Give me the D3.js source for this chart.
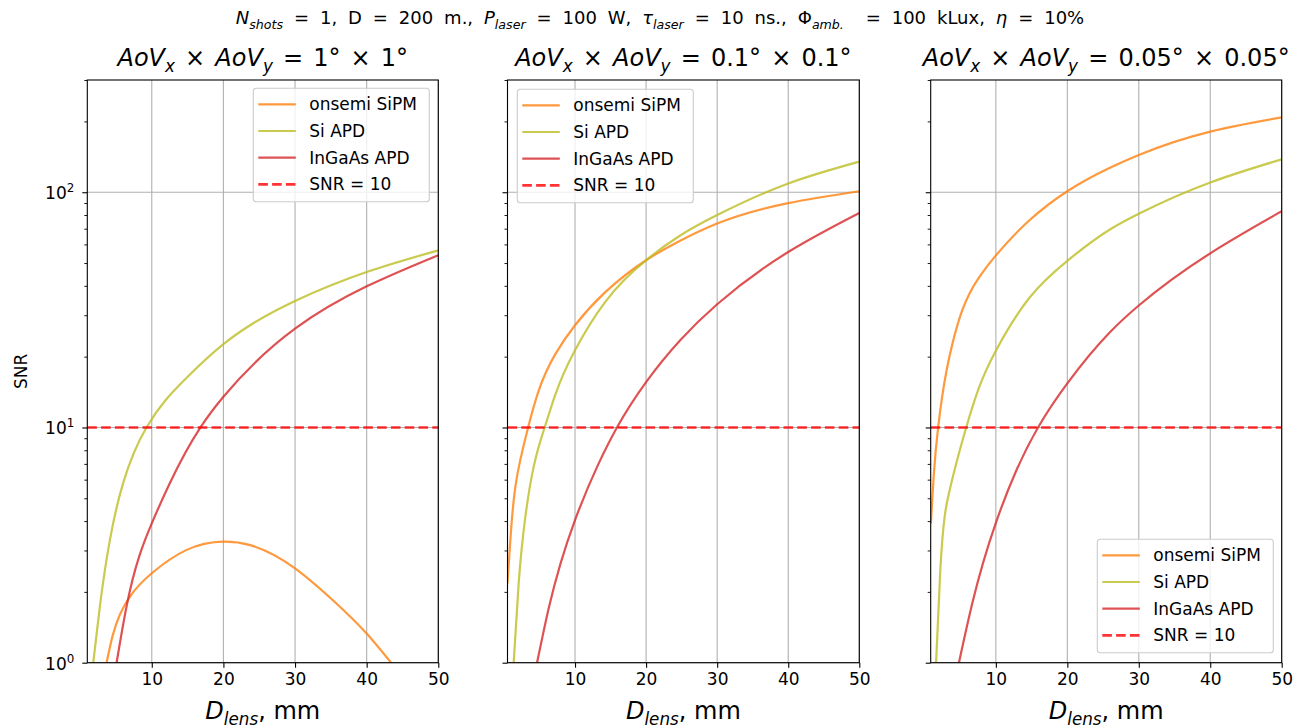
<!DOCTYPE html>
<html>
<head>
<meta charset="utf-8">
<script src="https://cdn.jsdelivr.net/npm/d3@7"></script>
<style>
  body { margin: 0; background: #fff; }
  svg { display: block; }
  text { font-family: "DejaVu Sans", sans-serif; fill: #000; white-space: pre; }
</style>
</head>
<body>
<svg id="chart" width="1302" height="728"></svg>
<script>
// ---- data: lens diameter (mm) vs SNR for each detector and angle of view ----
const xTicks = [10, 20, 30, 40, 50];
const yMajor = [1, 10, 100];
const yExponents = ["0", "1", "2"];
const snrThreshold = 10;
const seriesNames = ["onsemi SiPM", "Si APD", "InGaAs APD"];
const thresholdLabel = "SNR = 10";
const aovValues = ["1", "0.1", "0.05"];

// AoV 1° × 1°
const dSipm1 = [3.69, 4.53, 5.54, 7, 10, 14.8, 20, 23.75, 30, 35.4, 40, 43.4];
const snrSipm1 = [1, 1.3, 1.6, 1.92, 2.4, 3.01, 3.27, 3.16, 2.52, 1.83, 1.33, 1];
const dSi1 = [1.83, 2.75, 4.15, 6.0, 9.26, 14.8, 20, 30, 40, 50];
const snrSi1 = [1, 1.73, 3.32, 5.8, 10, 16.2, 22.6, 34.5, 45.8, 56.6];
const dIngaas1 = [5.09, 6.47, 10, 12.5, 16.8, 20, 30, 40, 50];
const snrIngaas1 = [1, 1.73, 3.91, 5.78, 10, 13.5, 26.3, 39.8, 54];

// AoV 0.1° × 0.1°
const dSipm2 = [0.5, 1.15, 1.61, 2.31, 3.4, 4.88, 7.23, 10, 14.26, 20, 24.8, 30, 40, 50];
const snrSipm2 = [2.17, 4.17, 5.6, 7.3, 10, 14.3, 20.5, 27.2, 37.6, 51.4, 62.2, 73.6, 89.9, 101];
const dSi2 = [1.37, 2.07, 3.01, 4.18, 5.73, 7.23, 10, 14.26, 20, 24.8, 30, 40, 50];
const snrSi2 = [1, 2.17, 4.17, 6.8, 10, 13.8, 21.3, 34.2, 51.4, 65.5, 80, 109, 135];
const dIngaas2 = [4.66, 6.29, 10, 13.3, 15.9, 20, 24.8, 30, 40, 50];
const snrIngaas2 = [1, 1.7, 4.04, 7.0, 10, 15.6, 23.5, 33.4, 55.7, 81.6];

// AoV 0.05° × 0.05°
const dSipm3 = [0.9, 1.31, 1.92, 2.48, 3.89, 5.3, 7.65, 10, 14.7, 20, 25.96, 30, 40, 50];
const snrSipm3 = [3.9, 6.27, 10, 13.5, 22.5, 31.5, 43.5, 53.9, 76, 101, 127, 144, 181, 208];
const dSi3 = [1.63, 2.25, 3.42, 5.85, 7.65, 10, 14.7, 20, 25.96, 30, 40, 50];
const snrSi3 = [1, 2.56, 5.24, 10, 14.8, 21.2, 35.6, 51.1, 69.4, 81, 110, 138];
const dIngaas3 = [4.83, 6.7, 10, 12.8, 15.9, 20, 25.96, 30, 40, 50];
const snrIngaas3 = [1, 1.79, 3.93, 6.5, 10, 15.4, 25.4, 33, 55, 83];

// ---- styling ----
const colors = ["#ff7f0e", "#bcbd22", "#d62728"];
const thresholdColor = "#ff0000";
const lineAlpha = 0.8;
const tickFont = 17;
const titleFont = 24;

const zip = (xs, ys) => xs.map((d, i) => [d, ys[i]]);

const panels = [
  { left: 87.3, right: 438.3, xDomain: [1, 50], legend: "upper right", showY: true,
    data: [zip(dSipm1, snrSipm1), zip(dSi1, snrSi1), zip(dIngaas1, snrIngaas1)] },
  { left: 507.5, right: 859.3, xDomain: [0.5, 50], legend: "upper left", showY: false,
    data: [zip(dSipm2, snrSipm2), zip(dSi2, snrSi2), zip(dIngaas2, snrIngaas2)] },
  { left: 930.7, right: 1281.7, xDomain: [0.88, 50], legend: "lower right", showY: false,
    data: [zip(dSipm3, snrSipm3), zip(dSi3, snrSi3), zip(dIngaas3, snrIngaas3)] }
];
const axTop = 80, axBottom = 662.7;

const svg = d3.select("#chart");

// natural cubic spline in x (C2-smooth, passes through every point), as a d3 curve
function curveSplineX(context) {
  let xs, ys;
  return {
    areaStart() {}, areaEnd() {},
    lineStart() { xs = []; ys = []; },
    point(x, y) { xs.push(+x); ys.push(+y); },
    lineEnd() {
      const n = xs.length;
      if (!n) return;
      context.moveTo(xs[0], ys[0]);
      if (n < 3) { if (n === 2) context.lineTo(xs[1], ys[1]); return; }
      const h = [];
      for (let i = 0; i < n - 1; i++) h.push(xs[i + 1] - xs[i]);
      const a = [], b = [], c = [], r = [];
      for (let i = 1; i < n - 1; i++) {
        a.push(h[i - 1]); b.push(2 * (h[i - 1] + h[i])); c.push(h[i]);
        r.push(6 * ((ys[i + 1] - ys[i]) / h[i] - (ys[i] - ys[i - 1]) / h[i - 1]));
      }
      const m = b.length;
      for (let j = 1; j < m; j++) {
        const w = a[j] / b[j - 1];
        b[j] -= w * c[j - 1]; r[j] -= w * r[j - 1];
      }
      const M = new Array(n).fill(0);
      M[m] = r[m - 1] / b[m - 1];
      for (let j = m - 2; j >= 0; j--) M[j + 1] = (r[j] - c[j] * M[j + 2]) / b[j];
      for (let i = 0; i < n - 1; i++) {
        const s = (ys[i + 1] - ys[i]) / h[i];
        const d0 = s - h[i] * (2 * M[i] + M[i + 1]) / 6;
        const d1 = s + h[i] * (M[i] + 2 * M[i + 1]) / 6;
        context.bezierCurveTo(xs[i] + h[i] / 3, ys[i] + d0 * h[i] / 3,
          xs[i + 1] - h[i] / 3, ys[i + 1] - d1 * h[i] / 3, xs[i + 1], ys[i + 1]);
      }
    }
  };
}

// text with italic / subscript / superscript runs
function richText(g, x, y, parts, size, anchor, wordSpacing) {
  const t = g.append("text").attr("x", x).attr("y", y)
    .attr("text-anchor", anchor).style("font-size", size + "px");
  if (wordSpacing) t.style("word-spacing", wordSpacing + "px");
  let shift = 0;
  parts.forEach(p => {
    const target = p.sub ? size * 0.26 : p.sup ? -size * 0.42 : 0;
    const ts = t.append("tspan").text(p.t).attr("dy", target - shift);
    shift = target;
    if (p.sub || p.sup) ts.style("font-size", (size * 0.7) + "px");
    if (p.it) ts.style("font-style", "italic");
  });
  return t;
}

// figure title
richText(svg, 660, 24, [
  { t: "N", it: 1 }, { t: "shots", it: 1, sub: 1 }, { t: " = 1, D = 200 m., " },
  { t: "P", it: 1 }, { t: "laser", it: 1, sub: 1 }, { t: " = 100 W, " },
  { t: "τ", it: 1 }, { t: "laser", it: 1, sub: 1 }, { t: " = 10 ns., " },
  { t: "Φ" }, { t: "amb.", it: 1, sub: 1 }, { t: "  = 100 kLux, " },
  { t: "η", it: 1 }, { t: " = 10%" }
], 18, "middle", 5.2);

const minorTicks = [];
[1, 10, 100].forEach(dec => { for (let k = 2; k <= 9; k++) if (dec * k <= 300) minorTicks.push(dec * k); });

const line = (x, y) => d3.line().x(d => x(d[0])).y(d => y(d[1])).curve(curveSplineX);

panels.forEach((p, pi) => {
  const x = d3.scaleLinear().domain(p.xDomain).range([p.left, p.right]);
  const y = d3.scaleLog().domain([1, 300]).range([axBottom, axTop]);
  const g = svg.append("g");

  const clipId = "clip" + pi;
  g.append("clipPath").attr("id", clipId).append("rect")
    .attr("x", p.left).attr("y", axTop).attr("width", p.right - p.left).attr("height", axBottom - axTop);

  // grid
  g.append("g").selectAll("line").data(xTicks).join("line")
    .attr("x1", d => x(d)).attr("x2", d => x(d)).attr("y1", axTop).attr("y2", axBottom)
    .attr("stroke", "#b0b0b0").attr("stroke-width", 1.1);
  g.append("g").selectAll("line").data(yMajor).join("line")
    .attr("x1", p.left).attr("x2", p.right).attr("y1", d => y(d)).attr("y2", d => y(d))
    .attr("stroke", "#b0b0b0").attr("stroke-width", 1.1);

  // curves
  const plot = g.append("g").attr("clip-path", `url(#${clipId})`);
  p.data.forEach((s, si) => {
    plot.append("path").datum(s).attr("d", line(x, y))
      .attr("fill", "none").attr("stroke", colors[si]).attr("stroke-opacity", lineAlpha)
      .attr("stroke-width", 2.2);
  });
  plot.append("line")
    .attr("x1", p.left).attr("x2", p.right).attr("y1", y(snrThreshold)).attr("y2", y(snrThreshold))
    .attr("stroke", thresholdColor).attr("stroke-opacity", lineAlpha)
    .attr("stroke-width", 2.6).attr("stroke-dasharray", "9.6,4.2");

  // axes
  const xAxis = g.append("g").attr("transform", `translate(0,${axBottom})`)
    .call(d3.axisBottom(x).tickValues(xTicks).tickSize(5).tickPadding(5).tickFormat(d3.format("d")));
  xAxis.select(".domain").remove();
  xAxis.selectAll("line").attr("stroke", "#000").attr("stroke-width", 1.1);
  xAxis.selectAll("text").style("font-size", tickFont + "px").attr("font-family", null).attr("fill", "#000");

  const yAxis = g.append("g").attr("transform", `translate(${p.left},0)`)
    .call(d3.axisLeft(y).tickValues(yMajor).tickSize(5).tickFormat(""));
  yAxis.select(".domain").remove();
  yAxis.selectAll("line").attr("stroke", "#000").attr("stroke-width", 1.1);
  const yMinor = g.append("g").attr("transform", `translate(${p.left},0)`)
    .call(d3.axisLeft(y).tickValues(minorTicks).tickSize(3).tickFormat(""));
  yMinor.select(".domain").remove();
  yMinor.selectAll("line").attr("stroke", "#000").attr("stroke-width", 0.9);

  if (p.showY) {
    yMajor.forEach((v, i) => {
      richText(g, p.left - 13, y(v) + 7, [{ t: "10" }, { t: yExponents[i], sup: 1 }], tickFont, "end");
    });
    g.append("text").attr("transform", `translate(27,${(axTop + axBottom) / 2}) rotate(-90)`)
      .attr("text-anchor", "middle").style("font-size", tickFont + "px").text("SNR");
  }

  // frame
  g.append("rect").attr("x", p.left).attr("y", axTop).attr("width", p.right - p.left).attr("height", axBottom - axTop)
    .attr("fill", "none").attr("stroke", "#000").attr("stroke-width", 1.1);

  // titles
  const cx = (p.left + p.right) / 2;
  const a = aovValues[pi];
  richText(g, cx, 66, [
    { t: "AoV", it: 1 }, { t: "x", it: 1, sub: 1 }, { t: " × " },
    { t: "AoV", it: 1 }, { t: "y", it: 1, sub: 1 }, { t: ` = ${a}° × ${a}°` }
  ], titleFont, "middle", 2.5);
  richText(g, cx, 719, [{ t: "D", it: 1 }, { t: "lens", it: 1, sub: 1 }, { t: ", mm" }], titleFont, "middle");

  // legend
  const lw = 176, lh = 113.4;
  let lx, ly;
  if (p.legend === "upper right") { lx = p.right - lw - 9; ly = axTop + 8.3; }
  else if (p.legend === "upper left") { lx = p.left + 9.8; ly = axTop + 9.3; }
  else { lx = p.right - lw - 8.4; ly = axBottom - lh - 10; }
  const lg = g.append("g").attr("transform", `translate(${lx},${ly})`);
  lg.append("rect").attr("width", lw).attr("height", lh).attr("rx", 3)
    .attr("fill", "#fff").attr("fill-opacity", 0.8).attr("stroke", "#cccccc").attr("stroke-width", 1.1);
  const entries = seriesNames.map((n, i) => ({ n, c: colors[i], dash: null }))
    .concat([{ n: thresholdLabel, c: thresholdColor, dash: "9.6,4.2" }]);
  entries.forEach((e, i) => {
    const ry = 16 + i * 26.7;
    lg.append("line").attr("x1", 5).attr("x2", 42.5).attr("y1", ry).attr("y2", ry)
      .attr("stroke", e.c).attr("stroke-opacity", lineAlpha)
      .attr("stroke-width", e.dash ? 2.6 : 2.2).attr("stroke-dasharray", e.dash);
    lg.append("text").attr("x", 56).attr("y", ry + 6).style("font-size", tickFont + "px").text(e.n);
  });
});
</script>
</body>
</html>
